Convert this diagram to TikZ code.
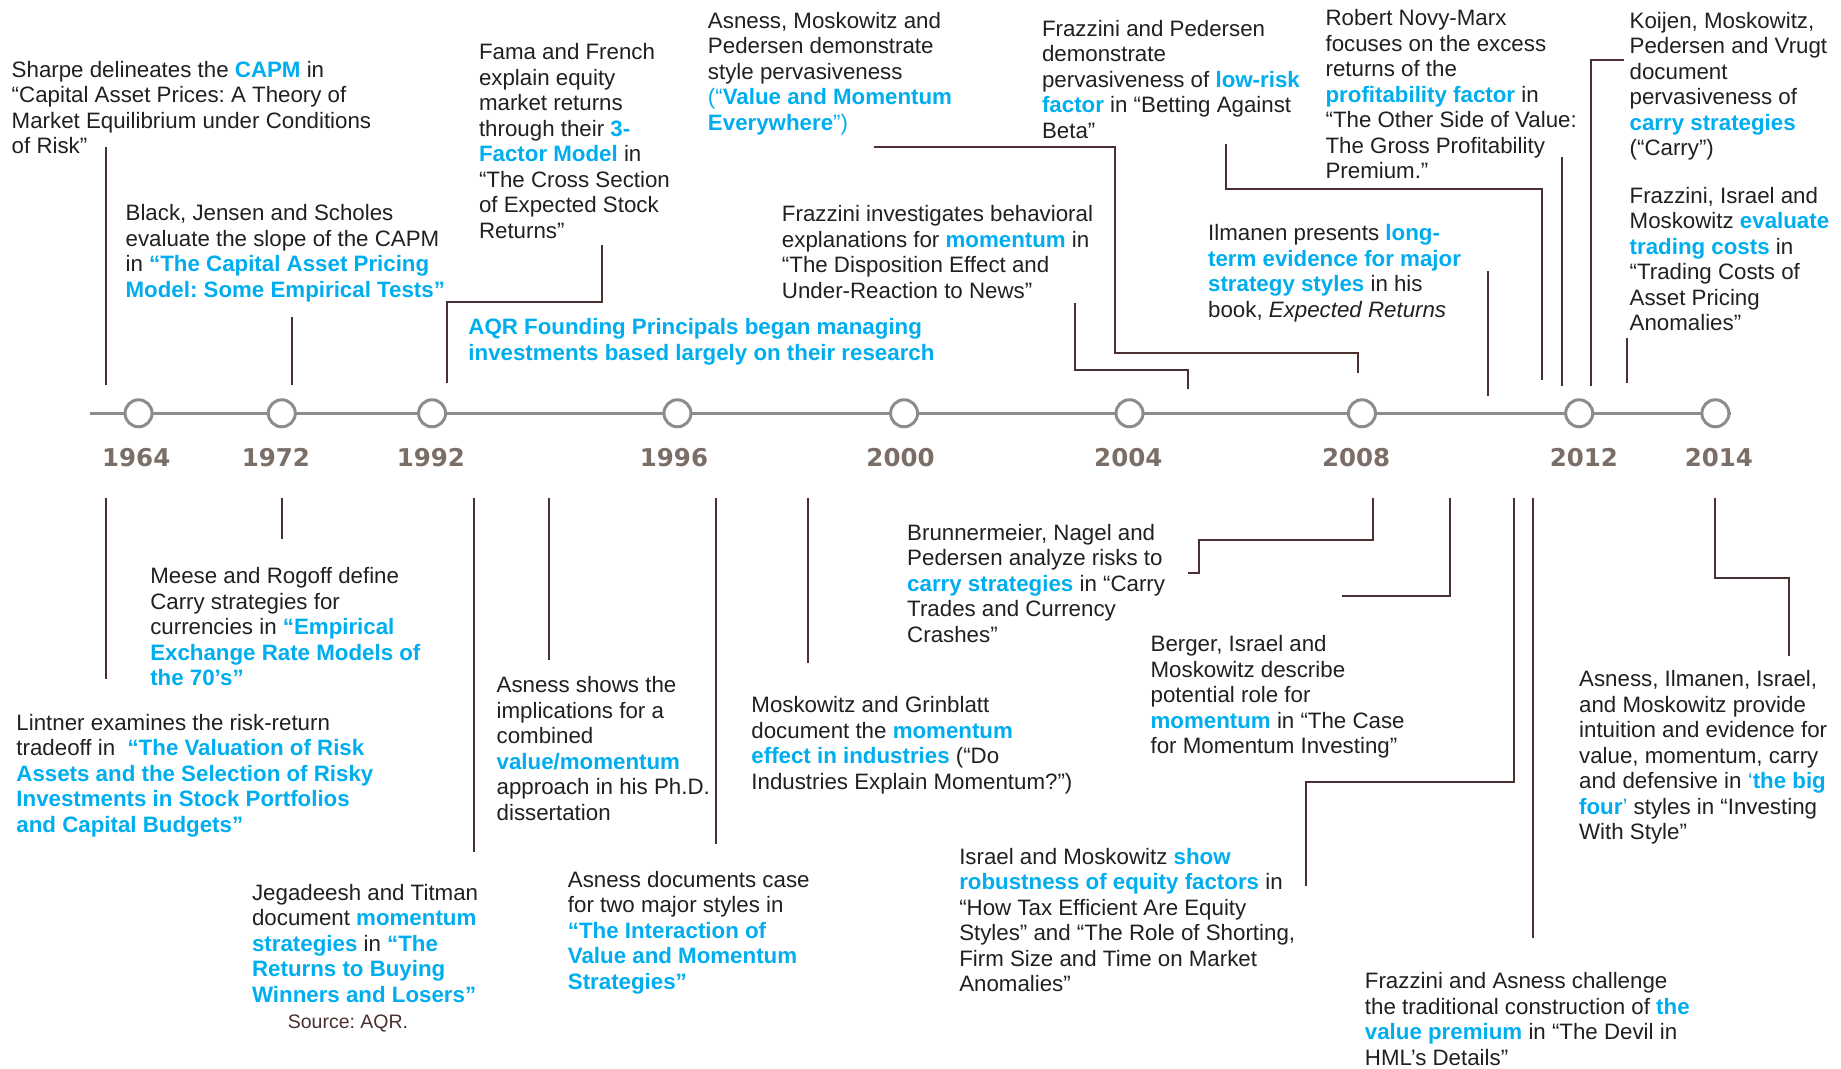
\documentclass[tikz,border=0pt]{standalone}
\usepackage{fontspec}
\setmainfont{Liberation Sans}
\newfontfamily\yearfont{DejaVu Sans}
\frenchspacing
\definecolor{aqrblue}{HTML}{00AEEF}
\definecolor{txt}{HTML}{231F20}
\definecolor{conncol}{HTML}{4A3030}
\definecolor{axiscol}{HTML}{8C8C8C}
\definecolor{yearcol}{HTML}{7A6E66}
\newcommand{\hl}[1]{{\bfseries\color{aqrblue}#1}}
\newcommand{\bl}[1]{{\color{aqrblue}#1}}
\newcommand{\blk}[1]{\begin{tabular}[t]{@{}l@{}}#1\end{tabular}}
\tikzset{
  txtnode/.style={anchor=base west, inner sep=0pt, outer sep=0pt, text=txt,
    font=\fontsize{22.3}{25.5}\selectfont\frenchspacing},
  srcnode/.style={anchor=base west, inner sep=0pt, text=conncol,
    font=\fontsize{19.5}{22}\selectfont\frenchspacing},
  conn/.style={draw=conncol, line width=2pt},
  axisline/.style={draw=axiscol, line width=3pt},
  yearcirc/.style={circle, draw=axiscol, fill=white, line width=3pt, minimum size=27pt, inner sep=0pt},
  yearlbl/.style={anchor=base, inner sep=0pt, text=yearcol,
    font=\fontsize{24.5}{28}\selectfont\yearfont\bfseries}
}
\begin{document}
\begin{tikzpicture}[x=1.1741pt,y=-1.1741pt]
\useasboundingbox[fill=white] (0,0) rectangle (1568,910);

% axis
\draw[axisline] (77,352) -- (1474,352);
\foreach \yr/\cx/\lx in {1964/118/116,1972/240/235,1992/368/367,1996/577/574,2000/770/767,2004/962/961,2008/1160/1155,2012/1345/1349,2014/1461/1464}{
  \node[yearcirc] (c\yr) at (\cx,352) {};
  \node[yearlbl] (y\yr) at (\lx,397) {\yr};
}

% connectors above
\draw[conn] (90,125) -- (90,328);
\draw[conn] (249,270) -- (249,328);
\draw[conn] (513,209) -- (513,257) -- (381,257) -- (381,326);
\draw[conn] (744,125) -- (950,125) -- (950,301) -- (1157,301) -- (1157,318);
\draw[conn] (916,258) -- (916,315) -- (1012,315) -- (1012,331);
\draw[conn] (1044,123) -- (1044,161) -- (1313,161) -- (1313,324);
\draw[conn] (1267,231) -- (1267,337);
\draw[conn] (1330,134) -- (1330,329);
\draw[conn] (1383,51) -- (1355,51) -- (1355,329);
\draw[conn] (1386,288) -- (1386,326);
% connectors below
\draw[conn] (90,424) -- (90,578);
\draw[conn] (240,424) -- (240,459);
\draw[conn] (403.5,424) -- (403.5,726);
\draw[conn] (468,424) -- (468,562);
\draw[conn] (610,424) -- (610,719);
\draw[conn] (688.5,424) -- (688.5,565);
\draw[conn] (1169,424) -- (1169,460) -- (1021,460) -- (1021,488) -- (1012,488);
\draw[conn] (1235,424) -- (1235,508) -- (1143,508);
\draw[conn] (1289.5,424) -- (1289.5,666) -- (1112,666) -- (1112,755);
\draw[conn] (1305.5,424) -- (1305.5,799);
\draw[conn] (1461,424) -- (1461,492) -- (1523.5,492) -- (1523.5,559);

% texts above
\node[txtnode] (sharpe) at (10,66) {\blk{Sharpe delineates the \hl{CAPM} in\\ “Capital Asset Prices: A Theory of\\ Market Equilibrium under Conditions\\ of Risk”}};
\node[txtnode] (black) at (107,188) {\blk{Black, Jensen and Scholes\\ evaluate the slope of the CAPM\\ in \hl{“The Capital Asset Pricing}\\ \hl{Model: Some Empirical Tests”}}};
\node[txtnode] (fama) at (408,51) {\blk{Fama and French\\ explain equity\\ market returns\\ through their \hl{3-}\\ \hl{Factor Model} in\\ “The Cross Section\\ of Expected Stock\\ Returns”}};
\node[txtnode] (aqr) at (399,285) {\blk{\hl{AQR Founding Principals began managing}\\ \hl{investments based largely on their research}}};
\node[txtnode] (amp) at (603,24) {\blk{Asness, Moskowitz and\\ Pedersen demonstrate\\ style pervasiveness\\ \bl{(“}\hl{Value and Momentum}\\ \hl{Everywhere}\bl{”)}}};
\node[txtnode] (fp) at (887.5,31) {\blk{Frazzini and Pedersen\\ demonstrate\\ pervasiveness of \hl{low-risk}\\ \hl{factor} in “Betting Against\\ Beta”}};
\node[txtnode] (fi) at (666,189) {\blk{Frazzini investigates behavioral\\ explanations for \hl{momentum} in\\ “The Disposition Effect and\\ Under-Reaction to News”}};
\node[txtnode] (ilm) at (1029,205) {\blk{Ilmanen presents \hl{long-}\\ \hl{term evidence for major}\\ \hl{strategy styles} in his\\ book, \textit{Expected Returns}}};
\node[txtnode] (novy) at (1129,22) {\blk{Robert Novy-Marx\\ focuses on the excess\\ returns of the\\ \hl{profitability factor} in\\ “The Other Side of Value:\\ The Gross Profitability\\ Premium.”}};
\node[txtnode] (koijen) at (1388,24) {\blk{Koijen, Moskowitz,\\ Pedersen and Vrugt\\ document\\ pervasiveness of\\ \hl{carry strategies}\\ (“Carry”)}};
\node[txtnode] (fim) at (1388,173) {\blk{Frazzini, Israel and\\ Moskowitz \hl{evaluate}\\ \hl{trading costs} in\\ “Trading Costs of\\ Asset Pricing\\ Anomalies”}};

% texts below
\node[txtnode] (meese) at (128,497) {\blk{Meese and Rogoff define\\ Carry strategies for\\ currencies in \hl{“Empirical}\\ \hl{Exchange Rate Models of}\\ \hl{the 70’s”}}};
\node[txtnode] (lintner) at (14,622) {\blk{Lintner examines the risk-return\\ tradeoff in\ \ \hl{“The Valuation of Risk}\\ \hl{Assets and the Selection of Risky}\\ \hl{Investments in Stock Portfolios}\\ \hl{and Capital Budgets”}}};
\node[txtnode] (phd) at (423,590) {\blk{Asness shows the\\ implications for a\\ combined\\ \hl{value/momentum}\\ approach in his Ph.D.\\ dissertation}};
\node[txtnode] (jeg) at (214.7,766.6) {\blk{Jegadeesh and Titman\\ document \hl{momentum}\\ \hl{strategies} in \hl{“The}\\ \hl{Returns to Buying}\\ \hl{Winners and Losers”}}};
\node[srcnode] (source) at (245,875.6) {Source: AQR.};
\node[txtnode] (inter) at (483.7,755.6) {\blk{Asness documents case\\ for two major styles in\\ \hl{“The Interaction of}\\ \hl{Value and Momentum}\\ \hl{Strategies”}}};
\node[txtnode] (mg) at (640,607) {\blk{Moskowitz and Grinblatt\\ document the \hl{momentum}\\ \hl{effect in industries} (“Do\\ Industries Explain Momentum?”)}};
\node[txtnode] (brunn) at (772.7,460) {\blk{Brunnermeier, Nagel and\\ Pedersen analyze risks to\\ \hl{carry strategies} in “Carry\\ Trades and Currency\\ Crashes”}};
\node[txtnode] (berger) at (980,555) {\blk{Berger, Israel and\\ Moskowitz describe\\ potential role for\\ \hl{momentum} in “The Case\\ for Momentum Investing”}};
\node[txtnode] (im) at (817,736) {\blk{Israel and Moskowitz \hl{show}\\ \hl{robustness of equity factors} in\\ “How Tax Efficient Are Equity\\ Styles” and “The Role of Shorting,\\ Firm Size and Time on Market\\ Anomalies”}};
\node[txtnode] (fa) at (1162.5,842) {\blk{Frazzini and Asness challenge\\ the traditional construction of \hl{the}\\ \hl{value premium} in “The Devil in\\ HML’s Details”}};
\node[txtnode] (aiim) at (1345,585) {\blk{Asness, Ilmanen, Israel,\\ and Moskowitz provide\\ intuition and evidence for\\ value, momentum, carry\\ and defensive in \bl{‘}\hl{the big}\\ \hl{four}\bl{’} styles in “Investing\\ With Style”}};
\end{tikzpicture}
\end{document}
